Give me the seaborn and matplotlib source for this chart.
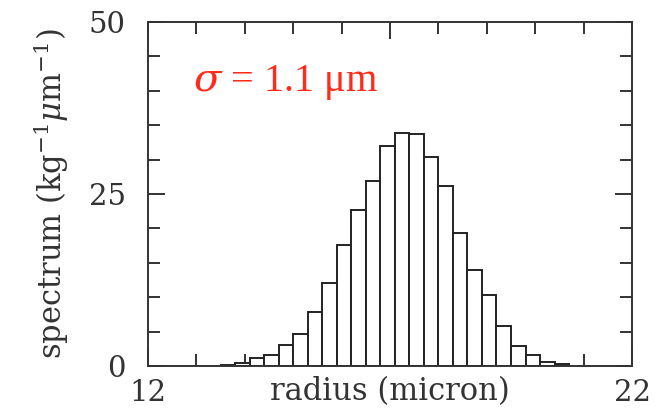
import numpy as np
import pandas as pd
import matplotlib
matplotlib.use("Agg")
import matplotlib.pyplot as plt
from matplotlib.ticker import MultipleLocator, FixedLocator
import seaborn as sns

# Data: histogram of droplet radius (bin width 0.3 micron)
bin_edges = [13.5 + 0.3 * i for i in range(25)]
spectrum = [0.2, 0.5, 1.1, 1.6, 3.1, 4.7, 7.9, 12.1, 17.6, 22.7, 26.9, 32.0,
            33.9, 33.7, 30.4, 26.2, 19.4, 13.9, 10.3, 5.8, 2.9, 1.6, 0.6, 0.25]
x_tick_values = [12, 17, 22]
x_tick_labels = ["12", "", "22"]
y_tick_values = [0, 25, 50]
y_tick_labels = ["0", "25", "50"]

centers = [(bin_edges[i] + bin_edges[i + 1]) / 2 for i in range(len(spectrum))]
df = pd.DataFrame({"radius": centers, "spectrum": spectrum})

sns.set_theme(style="ticks")
plt.rcParams["font.family"] = ["DejaVu Serif"]
plt.rcParams["mathtext.fontset"] = "dejavuserif"

fig = plt.figure(figsize=(6.7, 4.09), dpi=100)
ax = fig.add_axes([0.2209, 0.1051, 0.7224, 0.8411])

sns.histplot(data=df, x="radius", weights="spectrum", bins=bin_edges,
             color="white", edgecolor="#222222", linewidth=1.4, alpha=1,
             ax=ax)

ax.set_xlim(12, 22)
ax.set_ylim(0, 50)
ax.xaxis.set_major_locator(FixedLocator(x_tick_values))
ax.set_xticklabels(x_tick_labels)
ax.xaxis.set_minor_locator(MultipleLocator(1))
ax.yaxis.set_major_locator(FixedLocator(y_tick_values))
ax.set_yticklabels(y_tick_labels)
ax.yaxis.set_minor_locator(MultipleLocator(5))

ax.tick_params(which="both", direction="in", top=True, right=True,
               color="#333333", labelsize=21, labelcolor="#333333")
ax.tick_params(which="major", length=12, width=1.4)
ax.tick_params(which="minor", length=8.5, width=1.4)
ax.tick_params(axis="x", which="major", pad=9)
ax.tick_params(axis="y", which="major", pad=16)
for s in ax.spines.values():
    s.set_linewidth(1.4)
    s.set_color("#333333")

ax.set_xlabel("radius (micron)", fontsize=22, color="#333333")
ax.xaxis.set_label_coords(0.5, -0.03)
ax.xaxis.label.set_va("top")
ax.set_ylabel(r"spectrum (kg$^{-1}\mu$m$^{-1}$)", fontsize=22,
              color="#333333")
ax.yaxis.set_label_coords(-0.16, 0.5)

ax.text(0.093, 0.80, r"$\sigma$ = 1.1 μm", transform=ax.transAxes,
        color="#ff2a1a", fontsize=29, family=["Liberation Serif"],
        ha="left", va="baseline")

fig.savefig("out.png", dpi=100)
